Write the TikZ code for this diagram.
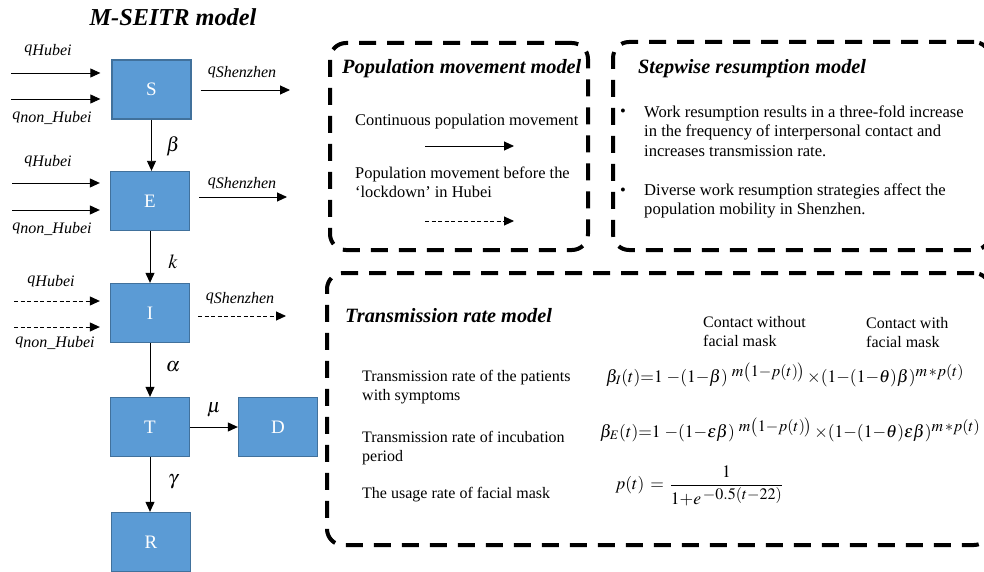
\documentclass[tikz,border=0pt]{standalone}
\usepackage{mathptmx}
\usepackage{fontspec}
\setmainfont{Liberation Serif}
\usetikzlibrary{arrows.meta,calc}
\definecolor{boxfill}{HTML}{5B9BD5}
\definecolor{boxline}{HTML}{41719C}
\newcommand\supx[2][6pt]{\raisebox{#1}{\fontsize{16}{16}\selectfont$#2$}}
\begin{document}
\begin{tikzpicture}[x=1pt,y=-1pt,
  comp/.style={draw=boxline, line width=1.3pt, fill=boxfill, minimum width=79pt, minimum height=59pt, text=white, inner sep=0pt, font=\fontsize{19}{21}\selectfont},
  arr/.style={line width=0.9pt, -{Triangle[length=10pt,width=9pt]}},
  darr/.style={arr, dash pattern=on 4pt off 2.5pt},
  qlab/.style={inner sep=0pt, font=\fontsize{16}{18}\selectfont\itshape},
  glab/.style={inner sep=0pt, font=\fontsize{20}{22}\selectfont},
  bigbox/.style={draw, line width=4pt, dash pattern=on 17pt off 11pt, rounded corners=16pt, inner sep=0pt},
  ttl/.style={inner sep=0pt, anchor=base west, font=\fontsize{20.3}{22}\selectfont\bfseries\itshape},
  txt/.style={inner sep=0pt, anchor=north west, align=left, font=\fontsize{16.4}{19.5}\selectfont},
  stxt/.style={inner sep=0pt, anchor=north west, align=left, font=\fontsize{16.6}{19.4}\selectfont},
  ttxt/.style={inner sep=0pt, anchor=north west, align=left, font=\fontsize{16}{19}\selectfont},
  fml/.style={inner sep=0pt, anchor=base west, font=\fontsize{17.5}{19}\selectfont}
]
\useasboundingbox (0,0) rectangle (984,572);
\fill[white] (0,0) rectangle (984,572);

% title
\node[inner sep=0pt, font=\fontsize{24.3}{26}\selectfont\bfseries\itshape] (title) at (173,17) {M-SEITR model};

% compartments
\node[comp] (S) at (151.5,89.5) {S};
\node[comp] (E) at (150,201) {E};
\node[comp] (I) at (150,313) {I};
\node[comp] (T) at (150,427) {T};
\node[comp] (D) at (278,427) {D};
\node[comp] (R) at (151,542) {R};

% vertical flows
\draw[arr] (S.south) -- (S.south |- E.north);
\draw[arr] (E.south) -- (I.north);
\draw[arr] (I.south) -- (T.north);
\draw[arr] (T.south) -- (T.south |- R.north);
\draw[arr] (T.east) -- (D.west);

\node[glab] (beta) at (173,146) {$\beta$};
\node[glab] (kap) at (173,262) {$k$};
\node[glab] (alp) at (173,367) {$\alpha$};
\node[glab] (mu) at (214,410) {$\mu$};
\node[glab] (gam) at (173,482) {$\gamma$};

% inflows / outflows
\coordinate (s1) at (11,73);
\coordinate (s2) at (11,99);
\coordinate (s3) at (290,90);
\draw[arr, shorten >=11pt] (s1) -- (s1 -| S.west);
\draw[arr, shorten >=11pt] (s2) -- (s2 -| S.west);
\draw[arr, shorten <=9pt] (s3 -| S.east) -- (s3);
\node[qlab] (qs1) at (48,50) {q\raisebox{-3pt}{Hubei}};
\node[qlab] (qs2) at (52,118) {q\raisebox{-3pt}{non\_Hubei}};
\node[qlab] (qs3) at (242,72) {q\raisebox{-3pt}{Shenzhen}};

\coordinate (e1) at (12,183);
\coordinate (e2) at (12,210);
\coordinate (e3) at (287,197);
\draw[arr, shorten >=10pt] (e1) -- (e1 -| E.west);
\draw[arr, shorten >=10pt] (e2) -- (e2 -| E.west);
\draw[arr, shorten <=9pt] (e3 -| E.east) -- (e3);
\node[qlab] (qe1) at (48,161) {q\raisebox{-3pt}{Hubei}};
\node[qlab] (qe2) at (52,229) {q\raisebox{-3pt}{non\_Hubei}};
\node[qlab] (qe3) at (242,183) {q\raisebox{-3pt}{Shenzhen}};

\coordinate (i1) at (14,301);
\coordinate (i2) at (14,327);
\coordinate (i3) at (286,316);
\draw[darr, shorten >=10pt] (i1) -- (i1 -| I.west);
\draw[darr, shorten >=10pt] (i2) -- (i2 -| I.west);
\draw[darr, shorten <=8pt] (i3 -| I.east) -- (i3);
\node[qlab] (qi1) at (51,281) {q\raisebox{-3pt}{Hubei}};
\node[qlab] (qi2) at (55,343) {q\raisebox{-3pt}{non\_Hubei}};
\node[qlab] (qi3) at (240,298) {q\raisebox{-3pt}{Shenzhen}};

% dashed containers
\node[bigbox, minimum width=258pt, minimum height=207pt] (popbox) at (459,146.5) {};
\node[bigbox, minimum width=377pt, minimum height=208pt] (stepbox) at (801.5,146) {};
\node[bigbox, minimum width=663pt, minimum height=272pt] (trbox) at (658.5,409) {};

% population movement model
\node[ttl] (pt) at (342,74) {Population movement model};
\node[txt] (p1) at (355,113.5) {Continuous population movement};
\coordinate (pa1) at (425,146);
\coordinate (pa2) at (514,146);
\draw[arr] (pa1) -- (pa2);
\node[txt] (p2) at (355,166.5) {Population movement before the\\‘lockdown’ in Hubei};
\coordinate (pb1) at (425,221);
\coordinate (pb2) at (514,221);
\draw[darr] (pb1) -- (pb2);

% stepwise resumption model
\node[ttl] (st) at (638,74) {Stepwise resumption model};
\node[stxt, anchor=base west] (b1) at (620,117) {•};
\node[stxt] (st1) at (644,105.5) {Work resumption results in a three-fold increase\\in the frequency of interpersonal contact and\\increases transmission rate.};
\node[stxt, anchor=base west] (b2) at (620,195) {•};
\node[stxt] (st2) at (644,183.5) {Diverse work resumption strategies affect the\\population mobility in Shenzhen.};

% transmission rate model
\node[ttl] (tt) at (345,322) {Transmission rate model};
\node[ttxt] (c1) at (703,316) {Contact without\\facial mask};
\node[ttxt] (c2) at (866,317) {Contact with\\facial mask};
\node[ttxt] (t1) at (362,370) {Transmission rate of the patients\\with symptoms};
\node[ttxt] (t2) at (362,431) {Transmission rate of incubation\\period};
\node[ttxt] (t3) at (362,487) {The usage rate of facial mask};

\node[fml] (f1) at (606,382)
 {$\beta_I(t){=}1\;{-}(1{-}\beta)\;\supx{m\bigl(1{-}p(t)\bigr)}\,{\times}(1{-}(1{-}\theta)\beta)\supx{m\,{*}p(t)}$};
\node[fml] (f2) at (600,437)
 {$\beta_E(t){=}1\;{-}(1{-}\varepsilon\beta)\;\supx{m\bigl(1{-}p(t)\bigr)}\,{\times}(1{-}(1{-}\theta)\varepsilon\beta)\supx{m\,{*}p(t)}$};
\node[inner sep=0pt, anchor=west, font=\fontsize{17.5}{19}\selectfont] (f3) at (615,486)
 {$\displaystyle p(t)\,=\,\frac{1}{1{+}e\,\supx[5pt]{-0.5(t{-}22)}}$};
\end{tikzpicture}
\end{document}
